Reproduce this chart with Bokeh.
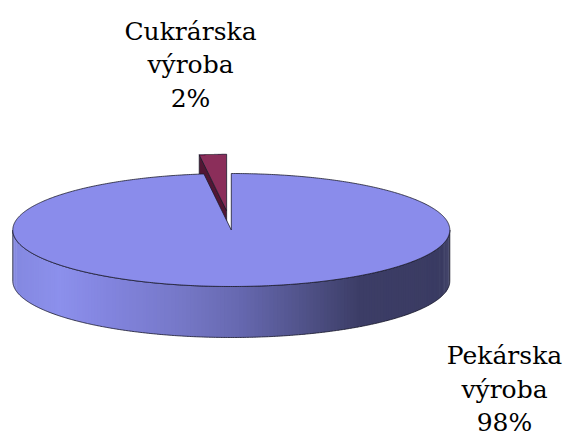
import numpy as np
from bokeh.plotting import figure
from bokeh.models import Range1d
from bokeh.embed import file_html
from bokeh.resources import INLINE
from bokeh.core.properties import value

# ---- data ----
categories = ["Pekárska výroba", "Cukrárska výroba"]
values = [98, 2]
explode = [0.0, 0.34]
top_colors = ["#8a8ceb", "#8b2e5a"]
face_colors = ["#5c5fa8", "#521634"]

# side-wall gradient stops (screen x -> rgb)
grad_x = [12, 60, 110, 180, 240, 300, 360, 449]
grad_r = [132, 140, 130, 118, 102, 82, 60, 58]
grad_g = [136, 144, 132, 120, 104, 84, 61, 59]
grad_b = [224, 236, 222, 200, 176, 140, 102, 98]

# ---- layout ----
W, H = 564, 438
cx, cy = 230.8, 229.5
rx, ry = 218.5, 56.5
depth = 51.0
outline = "#1c1c2c"

p = figure(width=W, height=H, x_range=Range1d(0, W), y_range=Range1d(H, 0),
           x_axis_type=None, y_axis_type=None, toolbar_location=None,
           output_backend="svg", min_border=0)
p.outline_line_color = None
p.background_fill_color = "white"


def pt(theta, sx=0.0, sy=0.0, dz=0.0):
    t = np.radians(theta)
    return cx + sx + rx * np.cos(t), cy + sy - ry * np.sin(t) + dz


def grad_color(x):
    r = int(round(np.interp(x, grad_x, grad_r)))
    g = int(round(np.interp(x, grad_x, grad_g)))
    b = int(round(np.interp(x, grad_x, grad_b)))
    return "#%02x%02x%02x" % (r, g, b)


total = float(sum(values))
slices = []
cum = 0.0
for i, v in enumerate(values):
    frac = v / total
    a_end = 90.0 - cum * 360.0
    a_start = a_end - frac * 360.0
    cum += frac
    mid = (a_start + a_end) / 2.0
    e = explode[i]
    sx = e * rx * np.cos(np.radians(mid))
    sy = -e * ry * np.sin(np.radians(mid))
    slices.append(dict(i=i, a0=a_start, a1=a_end, mid=mid, sx=sx, sy=sy))

# painter's order: back slices first
slices.sort(key=lambda s: -np.sin(np.radians(s["mid"])))

for s in slices:
    i, a0, a1, sx, sy = s["i"], s["a0"], s["a1"], s["sx"], s["sy"]
    ccx, ccy = cx + sx, cy + sy
    # radial faces
    for a, vis in ((a1, np.cos(np.radians(a1)) < -1e-9),
                   (a0, np.cos(np.radians(a0)) > 1e-9)):
        if vis:
            rxp, ryp = pt(a, sx, sy)
            p.patch([ccx, rxp, rxp, ccx], [ccy, ryp, ryp + depth, ccy + depth],
                    fill_color=face_colors[i], line_color=outline, line_width=0.8)
    # outer side wall (front part)
    th = np.linspace(a0, a1, int(abs(a1 - a0)) + 2)
    xs, ys, cols = [], [], []
    front = []
    for t1, t2 in zip(th[:-1], th[1:]):
        tm = (t1 + t2) / 2
        if np.sin(np.radians(tm)) < 0:
            t2e = min(t2 + 0.6, a1)
            x1, y1 = pt(t1, sx, sy)
            x2, y2 = pt(t2e, sx, sy)
            xs.append([x1, x2, x2, x1])
            ys.append([y1, y2, y2 + depth, y1 + depth])
            c = grad_color((x1 + x2) / 2) if i == 0 else face_colors[i]
            cols.append(c)
            front.append((t1, t2))
    if xs:
        p.patches(xs, ys, fill_color=cols, line_color=None)
        ft = np.linspace(front[0][0], front[-1][1], 400)
        tx, ty = pt(ft, sx, sy)
        bx, by = pt(ft[::-1], sx, sy, depth)
        p.patch(list(tx) + list(bx), list(ty) + list(by), fill_alpha=0,
                line_color=outline, line_width=0.8)
    # top surface
    at = np.linspace(a0, a1, 600)
    tx, ty = pt(at, sx, sy)
    p.patch([ccx] + list(tx), [ccy] + list(ty), fill_color=top_colors[i],
            line_color=outline, line_width=0.8)

# ---- labels ----
label_anchor = [(504, 355.0), (190, 30.7)]
line_gap = 33.5
lx, ly, lt = [], [], []
for i, cat in enumerate(categories):
    pct = "%d%%" % round(values[i] / total * 100)
    lines = cat.split(" ") + [pct]
    ax, ay = label_anchor[i]
    for k, t in enumerate(lines):
        lx.append(ax)
        ly.append(ay + k * line_gap)
        lt.append(t)
p.text(x=lx, y=ly, text=lt, text_font=value("DejaVu Serif"),
       text_font_size="25px", text_align="center", text_baseline="alphabetic",
       text_color="black")

open("out.html", "w").write(file_html(p, INLINE))
